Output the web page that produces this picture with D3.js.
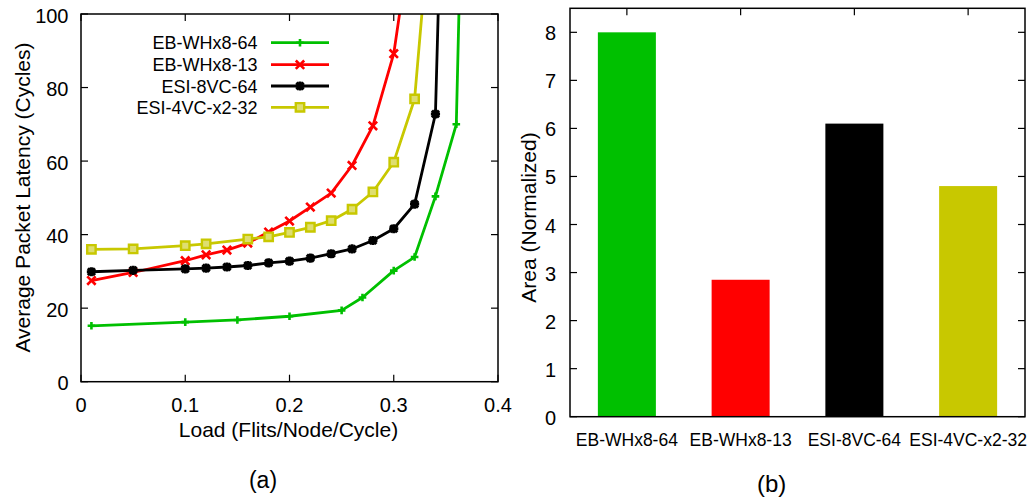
<!DOCTYPE html>
<html><head><meta charset="utf-8">
<script src="https://cdn.jsdelivr.net/npm/d3@7"></script>
<style>
html,body{margin:0;padding:0;background:#fff;}
svg{display:block;font-family:"Liberation Sans",Arial,Helvetica,sans-serif;}
</style></head>
<body>
<svg id="c" width="1030" height="502"></svg>
<script>
// ---------- data ----------
const seriesNames = ["EB-WHx8-64","EB-WHx8-13","ESI-8VC-64","ESI-4VC-x2-32"];
const seriesColors = ["#00c000","#ff0000","#000000","#c8c800"];
const markerTypes = ["plus","cross","star","square"];

const loadGreen  = [0.01,0.10,0.15,0.20,0.25,0.27,0.30,0.32,0.34,0.36,0.37];
const latGreen   = [15.2,16.2,16.8,17.8,19.4,22.9,30.2,33.9,50.4,70.0,190];

const loadRed    = [0.01,0.05,0.10,0.12,0.14,0.16,0.18,0.20,0.22,0.24,0.26,0.28,0.30,0.32];
const latRed     = [27.5,29.7,32.9,34.5,35.8,37.7,40.7,43.7,47.5,51.3,58.8,69.6,89.2,128];

const loadBlack  = [0.01,0.05,0.10,0.12,0.14,0.16,0.18,0.20,0.22,0.24,0.26,0.28,0.30,0.32,0.34,0.35];
const latBlack   = [29.9,30.3,30.7,30.9,31.2,31.6,32.3,32.8,33.6,34.8,36.1,38.4,41.6,48.3,72.8,177];

const loadYellow = [0.01,0.05,0.10,0.12,0.16,0.18,0.20,0.22,0.24,0.26,0.28,0.30,0.32,0.34];
const latYellow  = [36.0,36.1,37.0,37.5,38.8,39.4,40.6,42.0,43.8,46.9,51.6,59.7,76.9,143];

const xTicksA = [0,0.1,0.2,0.3,0.4];
const yTicksA = [0,20,40,60,80,100];

const barCategories = ["EB-WHx8-64","EB-WHx8-13","ESI-8VC-64","ESI-4VC-x2-32"];
const barValues = [8.0,2.85,6.1,4.8];
const yTicksB = [0,1,2,3,4,5,6,7,8];

// ---------- setup ----------
const svg = d3.select("#c");
const TICK = 7;

// ---------- chart (a) ----------
const A = {l:81, r:498, t:14, b:381.7};
const xA = d3.scaleLinear().domain([0,0.4]).range([A.l,A.r]);
const yA = d3.scaleLinear().domain([0,100]).range([A.b,A.t]);

const gA = svg.append("g");
svg.append("defs").append("clipPath").attr("id","clipA")
  .append("rect").attr("x",A.l).attr("y",A.t).attr("width",A.r-A.l).attr("height",A.b-A.t);

xTicksA.forEach(v=>{
  gA.append("line").attr("x1",xA(v)).attr("x2",xA(v)).attr("y1",A.b).attr("y2",A.b-TICK).attr("stroke","#000").attr("stroke-width",1.2);
  gA.append("line").attr("x1",xA(v)).attr("x2",xA(v)).attr("y1",A.t).attr("y2",A.t+TICK).attr("stroke","#000").attr("stroke-width",1.2);
  gA.append("text").attr("x",xA(v)).attr("y",405).attr("text-anchor","middle").attr("dominant-baseline","central")
    .attr("font-size",20).attr("fill","#000").text(v===0?"0":d3.format(".1f")(v));
});
yTicksA.forEach(v=>{
  gA.append("line").attr("x1",A.l).attr("x2",A.l+TICK).attr("y1",yA(v)).attr("y2",yA(v)).attr("stroke","#000").attr("stroke-width",1.2);
  gA.append("line").attr("x1",A.r).attr("x2",A.r-TICK).attr("y1",yA(v)).attr("y2",yA(v)).attr("stroke","#000").attr("stroke-width",1.2);
  gA.append("text").attr("x",68.5).attr("y",yA(v)+1.5).attr("text-anchor","end").attr("dominant-baseline","central")
    .attr("font-size",20).attr("fill","#000").text(v);
});

function markerPath(type){
  switch(type){
    case "plus":   return "M-3.8,0H3.8M0,-3.8V3.8";
    case "cross":  return "M-4.2,-4.2L4.2,4.2M-4.2,4.2L4.2,-4.2";
    case "star":   return "M-4.6,0H4.6M0,-4.6V4.6M-3.5,-3.5L3.5,3.5M-3.5,3.5L3.5,-3.5";
    case "square": return "M-4.2,-4.2H4.2V4.2H-4.2Z";
  }
}
function drawMarker(g, type, color){
  const p = g.append("path").attr("d",markerPath(type)).attr("stroke",color);
  if(type==="square"){ p.attr("fill","#dede70").attr("stroke-width",2.4); }
  else if(type==="star"){ p.attr("fill","none").attr("stroke-width",3); }
  else if(type==="cross"){ p.attr("fill","none").attr("stroke-width",2.6); }
  else { p.attr("fill","none").attr("stroke-width",2.6); }
}

const seriesData = [
  loadGreen.map((x,i)=>({x, y:latGreen[i]})),
  loadRed.map((x,i)=>({x, y:latRed[i]})),
  loadBlack.map((x,i)=>({x, y:latBlack[i]})),
  loadYellow.map((x,i)=>({x, y:latYellow[i]}))
];
const line = d3.line().x(d=>xA(d.x)).y(d=>yA(d.y));
const plotA = gA.append("g").attr("clip-path","url(#clipA)");
seriesData.forEach((data,si)=>{
  plotA.append("path").datum(data).attr("d",line).attr("fill","none")
    .attr("stroke",seriesColors[si]).attr("stroke-width",2.8).attr("stroke-linejoin","round");
  data.forEach(d=>{
    const mg = plotA.append("g").attr("transform",`translate(${xA(d.x)},${yA(d.y)})`);
    drawMarker(mg, markerTypes[si], seriesColors[si]);
  });
});

gA.append("rect").attr("x",A.l).attr("y",A.t).attr("width",A.r-A.l).attr("height",A.b-A.t)
  .attr("fill","none").attr("stroke","#000").attr("stroke-width",1.5);

const legY = [42.7,64.7,86,107.3];
seriesNames.forEach((name,i)=>{
  gA.append("text").attr("x",257.5).attr("y",legY[i]+0.5).attr("text-anchor","end").attr("dominant-baseline","central")
    .attr("font-size",18).attr("fill","#000").text(name);
  gA.append("line").attr("x1",271).attr("x2",329).attr("y1",legY[i]).attr("y2",legY[i])
    .attr("stroke",seriesColors[i]).attr("stroke-width",2.8);
  const mg = gA.append("g").attr("transform",`translate(300,${legY[i]})`);
  drawMarker(mg, markerTypes[i], seriesColors[i]);
});

gA.append("text").attr("transform","translate(22,197.5) rotate(-90)").attr("text-anchor","middle").attr("dominant-baseline","central")
  .attr("font-size",21).attr("fill","#000").text("Average Packet Latency (Cycles)");
gA.append("text").attr("x",288.5).attr("y",429).attr("text-anchor","middle").attr("dominant-baseline","central")
  .attr("font-size",21).attr("fill","#000").text("Load (Flits/Node/Cycle)");
gA.append("text").attr("x",263).attr("y",479.5).attr("text-anchor","middle").attr("dominant-baseline","central")
  .attr("font-size",23).attr("fill","#000").text("(a)");

// ---------- chart (b) ----------
const B = {l:570, r:1025, t:8.3, b:416.7};
const xB = d3.scaleBand().domain(barCategories).range([B.l,B.r]).paddingInner(0.49).paddingOuter(0.245);
const yB = d3.scaleLinear().domain([0,8.5]).range([B.b,B.t]);
const gB = svg.append("g");

gB.selectAll("rect.bar").data(barCategories).enter().append("rect").attr("class","bar")
  .attr("x",d=>xB(d)).attr("width",xB.bandwidth())
  .attr("y",(d,i)=>yB(barValues[i])).attr("height",(d,i)=>yB(0)-yB(barValues[i]))
  .attr("fill",(d,i)=>seriesColors[i]);

yTicksB.forEach(v=>{
  gB.append("line").attr("x1",B.l).attr("x2",B.l+TICK).attr("y1",yB(v)).attr("y2",yB(v)).attr("stroke","#000").attr("stroke-width",1.2);
  gB.append("line").attr("x1",B.r).attr("x2",B.r-TICK).attr("y1",yB(v)).attr("y2",yB(v)).attr("stroke","#000").attr("stroke-width",1.2);
  gB.append("text").attr("x",556).attr("y",yB(v)+1).attr("text-anchor","end").attr("dominant-baseline","central")
    .attr("font-size",20).attr("fill","#000").text(v);
});
barCategories.forEach(c=>{
  const cx = xB(c)+xB.bandwidth()/2;
  gB.append("line").attr("x1",cx).attr("x2",cx).attr("y1",B.t).attr("y2",B.t+TICK).attr("stroke","#000").attr("stroke-width",1.2);
  gB.append("text").attr("x",cx).attr("y",440).attr("text-anchor","middle").attr("dominant-baseline","central")
    .attr("font-size",17.5).attr("fill","#000").text(c);
});
gB.append("rect").attr("x",B.l).attr("y",B.t).attr("width",B.r-B.l).attr("height",B.b-B.t)
  .attr("fill","none").attr("stroke","#000").attr("stroke-width",1.5);

gB.append("text").attr("transform","translate(528,217.5) rotate(-90)").attr("text-anchor","middle").attr("dominant-baseline","central")
  .attr("font-size",21).attr("fill","#000").text("Area (Normalized)");
gB.append("text").attr("x",771.7).attr("y",483).attr("text-anchor","middle").attr("dominant-baseline","central")
  .attr("font-size",24).attr("fill","#000").text("(b)");
</script>
</body></html>
